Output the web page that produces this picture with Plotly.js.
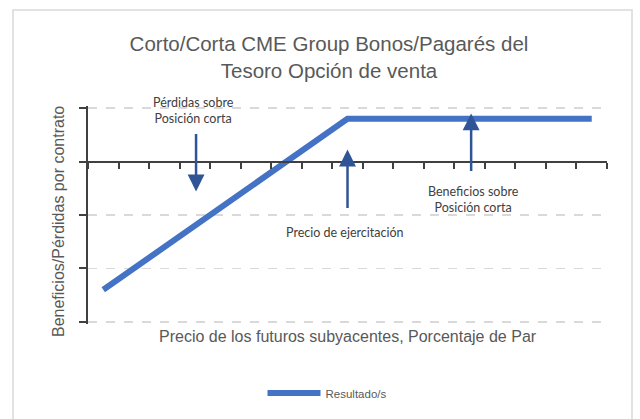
<!DOCTYPE html>
<html>
<head>
<meta charset="utf-8">
<script src="https://cdn.plot.ly/plotly-3.0.1.min.js"></script>
<style>html,body{margin:0;padding:0;background:#fff;}#chart{width:640px;height:419px;}</style>
</head>
<body>
<div id="chart"></div>
<script>
// Categories: underlying futures price steps (no labels shown)
const categories = [0,1,2,3,4,5,6,7,8,9,10,11,12,13,14,15,16];
// Profit/loss per contract (short put)
const resultValues = [-2.4,-2.0,-1.6,-1.2,-0.8,-0.4,0,0.4,0.8,0.8,0.8,0.8,0.8,0.8,0.8,0.8,0.8];
const seriesName = 'Resultado/s';
const yTicks = [-3,-2,-1,0,1];
const xBoundaries = categories.map(c => c - 0.5).concat([categories[categories.length-1] + 0.5]);

const annoFont = {family: 'Lato, Liberation Sans, sans-serif', size: 12.5, color: '#404040'};
const arrowColor = '#2F5597';
const yLo = -3.04, yHi = 1.04;
const plotTop = 106, plotH = 218;
const py = p => (plotTop + plotH - p) / plotH;   // pixel y -> paper fraction
const px = p => (p - 88) / 519;                  // pixel x -> paper fraction

const trace = {
  x: categories, y: resultValues, type: 'scatter', mode: 'lines', name: seriesName,
  line: {color: '#4472C4', width: 6}
};

const layout = {
  width: 640, height: 419,
  paper_bgcolor: '#fff', plot_bgcolor: '#fff',
  margin: {l: 88, r: 33, t: plotTop, b: 419 - plotTop - plotH},
  font: {family: 'Liberation Sans, Arial, sans-serif', color: '#595959'},
  title: {
    text: 'Corto/Corta CME Group Bonos/Pagarés del<br>Tesoro Opción de venta',
    font: {family: 'Liberation Sans, Arial, sans-serif', size: 20.5, color: '#595959'},
    xref: 'container', x: 329/640, xanchor: 'center',
    yref: 'container', y: 1 - 51/419, yanchor: 'middle'
  },
  xaxis: {
    range: [-0.5, 16.5], tickvals: xBoundaries, ticks: 'outside', ticklen: 6, tickwidth: 2,
    tickcolor: '#404040', showticklabels: false, showline: true, linecolor: '#404040', linewidth: 2,
    showgrid: false, zeroline: false, anchor: 'free', position: -yLo / (yHi - yLo), fixedrange: true
  },
  yaxis: {
    range: [yLo, yHi], tickvals: yTicks, ticks: 'outside', ticklen: 7, tickwidth: 2, tickcolor: '#404040',
    showticklabels: false, showline: true, linecolor: '#404040', linewidth: 2,
    showgrid: true, gridcolor: '#d9d9d9', gridwidth: 1.5, griddash: 'dash', zeroline: false, fixedrange: true
  },
  showlegend: true,
  legend: {
    orientation: 'h', xref: 'container', yref: 'container', x: 327/640, xanchor: 'center',
    y: 1 - 393/419, yanchor: 'middle', itemwidth: 53,
    font: {family: 'Liberation Sans, Arial, sans-serif', size: 11.5, color: '#595959'}
  },
  shapes: [
    {type: 'rect', xref: 'paper', yref: 'paper', x0: px(13), x1: px(632),
     y0: py(440), y1: py(10), line: {color: '#d9d9d9', width: 1.5}, fillcolor: 'rgba(0,0,0,0)', layer: 'below'}
  ],
  annotations: [
    {xref: 'paper', yref: 'paper', x: px(348), y: py(336), xanchor: 'center', yanchor: 'middle',
     text: 'Precio de los futuros subyacentes, Porcentaje de Par', showarrow: false,
     font: {family: 'Liberation Sans, Arial, sans-serif', size: 16, color: '#595959'}},
    {xref: 'paper', yref: 'paper', x: px(58), y: py(222), xanchor: 'center', yanchor: 'middle',
     text: 'Beneficios/Pérdidas por contrato', showarrow: false, textangle: -90,
     font: {family: 'Liberation Sans, Arial, sans-serif', size: 16, color: '#595959'}},
    // arrows
    {x: 3.04, y: -0.56, ax: 0, ay: -59, text: '', showarrow: true, arrowhead: 2, arrowsize: 1.35, arrowwidth: 2.5, arrowcolor: arrowColor},
    {x: 8, y: 0.224, ax: 0, ay: 60, text: '', showarrow: true, arrowhead: 2, arrowsize: 1.35, arrowwidth: 2.5, arrowcolor: arrowColor},
    {x: 12.05, y: 0.9, ax: 0, ay: 59, text: '', showarrow: true, arrowhead: 2, arrowsize: 1.35, arrowwidth: 2.5, arrowcolor: arrowColor},
    // labels
    {xref: 'paper', yref: 'paper', x: px(193), y: py(110.5), text: 'Pérdidas sobre<br>Posición corta', showarrow: false, font: annoFont, xanchor: 'center', yanchor: 'middle'},
    {xref: 'paper', yref: 'paper', x: px(345), y: py(232), text: 'Precio de ejercitación', showarrow: false, font: annoFont, xanchor: 'center', yanchor: 'middle'},
    {xref: 'paper', yref: 'paper', x: px(473), y: py(199), text: 'Beneficios sobre<br>Posición corta', showarrow: false, font: annoFont, xanchor: 'center', yanchor: 'middle'}
  ]
};

Plotly.newPlot('chart', [trace], layout, {displayModeBar: false, staticPlot: true});
</script>
</body>
</html>
